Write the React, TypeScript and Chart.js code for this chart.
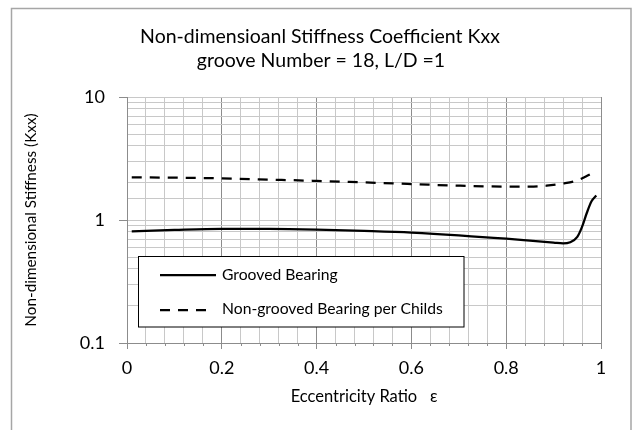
import React, { useEffect, useRef } from "react";
import { Chart, registerables } from "chart.js";

Chart.register(...registerables);

// Eccentricity ratio samples and stiffness coefficient Kxx for each bearing type
const groovedEcc = [0.01, 0.1, 0.2, 0.3, 0.4, 0.5, 0.6, 0.7, 0.75, 0.8, 0.85, 0.9, 0.92, 0.935, 0.95, 0.96, 0.97, 0.98, 0.99];
const groovedKxx = [0.81, 0.83, 0.845, 0.845, 0.835, 0.815, 0.79, 0.75, 0.725, 0.705, 0.68, 0.655, 0.645, 0.66, 0.73, 0.88, 1.14, 1.42, 1.58];

const nonGroovedEcc = [0.01, 0.1, 0.2, 0.3, 0.4, 0.5, 0.6, 0.7, 0.8, 0.85, 0.885, 0.92, 0.95, 0.977];
const nonGroovedKxx = [2.22, 2.21, 2.18, 2.13, 2.08, 2.02, 1.96, 1.9, 1.87, 1.87, 1.9, 1.98, 2.1, 2.35];

const xTickLabels = ["0", "0.2", "0.4", "0.6", "0.8", "1"];
const yTickLabels = ["0.1", "1", "10"];

const titleLines = ["Non-dimensioanl Stiffness Coefficient Kxx", "groove Number = 18, L/D =1"];
const seriesNames = ["Grooved Bearing", "Non-grooved Bearing per Childs"];
const xAxisTitle = "Eccentricity Ratio   \u03b5";
const yAxisTitle = "Non-dimensional Stiffness (Kxx)";

const FONT = "Lato, 'Open Sans', sans-serif";
const DASH = [10, 8];

const isMajorX = (v: number) => Math.round(v * 100) % 20 === 0;
const isDecade = (v: number) => {
  const l = Math.log10(v);
  return Math.abs(l - Math.round(l)) < 1e-6;
};

const decorPlugin = {
  id: "decor",
  beforeDraw(chart: any) {
    const { ctx } = chart;
    ctx.save();
    ctx.fillStyle = "#ffffff";
    ctx.fillRect(0, 0, chart.width, chart.height);
    ctx.strokeStyle = "#a6a6a6";
    ctx.lineWidth = 1.5;
    ctx.strokeRect(11.5, 8.5, 619.5, 440);
    ctx.restore();
  },
  afterDraw(chart: any) {
    const { ctx, chartArea, scales } = chart;
    const xs = scales.x;
    ctx.save();

    // short minor tick marks under the x axis
    ctx.strokeStyle = "#8c8c8c";
    ctx.lineWidth = 1;
    xs.ticks.forEach((t: any) => {
      if (!isMajorX(t.value)) {
        const px = Math.round(xs.getPixelForValue(t.value)) + 0.5;
        ctx.beginPath();
        ctx.moveTo(px, chartArea.bottom);
        ctx.lineTo(px, chartArea.bottom + 3);
        ctx.stroke();
      }
    });

    // two-line chart title
    ctx.fillStyle = "#000";
    ctx.font = `19.5px ${FONT}`;
    ctx.textAlign = "center";
    ctx.textBaseline = "alphabetic";
    ctx.fillText(titleLines[0], 320, 43);
    ctx.fillText(titleLines[1], 321, 67);

    // legend box inside the plot
    ctx.fillStyle = "#fff";
    ctx.fillRect(138.5, 256.5, 325.5, 70.5);
    ctx.strokeStyle = "#000";
    ctx.lineWidth = 1;
    ctx.strokeRect(138.5, 256.5, 325.5, 70.5);

    ctx.lineWidth = 2.25;
    ctx.beginPath();
    ctx.moveTo(160, 275);
    ctx.lineTo(216, 275);
    ctx.stroke();
    ctx.setLineDash(DASH);
    ctx.beginPath();
    ctx.moveTo(160, 310);
    ctx.lineTo(207, 310);
    ctx.stroke();
    ctx.setLineDash([]);

    ctx.fillStyle = "#000";
    ctx.font = `15.7px ${FONT}`;
    ctx.textAlign = "left";
    ctx.fillText(seriesNames[0], 222, 280);
    ctx.fillText(seriesNames[1], 222, 314);

    ctx.restore();
  },
};

export default function App() {
  const canvasRef = useRef<HTMLCanvasElement | null>(null);

  useEffect(() => {
    const canvas = canvasRef.current;
    if (!canvas) return;

    const chart = new Chart(canvas, {
      type: "line",
      data: {
        datasets: [
          {
            label: seriesNames[0],
            data: groovedEcc.map((x, i) => ({ x, y: groovedKxx[i] })),
            borderColor: "#000",
            borderWidth: 2.25,
            pointRadius: 0,
            cubicInterpolationMode: "monotone",
            fill: false,
          },
          {
            label: seriesNames[1],
            data: nonGroovedEcc.map((x, i) => ({ x, y: nonGroovedKxx[i] })),
            borderColor: "#000",
            borderWidth: 2.25,
            borderDash: DASH,
            pointRadius: 0,
            cubicInterpolationMode: "monotone",
            fill: false,
          },
        ],
      },
      options: {
        animation: false,
        responsive: false,
        devicePixelRatio: 1,
        layout: { padding: { top: 97, right: 32, bottom: 0, left: 0 } },
        plugins: {
          legend: { display: false },
          tooltip: { enabled: false },
          title: { display: false },
        },
        scales: {
          x: {
            type: "linear",
            min: 0,
            max: 1,
            afterFit: (s: any) => {
              s.height = 87;
            },
            ticks: {
              stepSize: 0.04,
              autoSkip: false,
              maxRotation: 0,
              padding: 8,
              color: "#000",
              font: { family: FONT, size: 18 },
              callback: (v: any) => {
                const n = Number(v);
                if (!isMajorX(n)) return "";
                return xTickLabels[Math.round(n * 5)];
              },
            },
            grid: {
              color: (c: any) => (isMajorX(c.tick.value) ? "#8c8c8c" : "#c8c8c8"),
              tickColor: (c: any) => (isMajorX(c.tick.value) ? "#8c8c8c" : "rgba(0,0,0,0)"),
              tickLength: 6,
              lineWidth: 1,
            },
            border: { color: "#8c8c8c" },
            title: {
              display: true,
              text: xAxisTitle,
              color: "#000",
              font: { family: FONT, size: 16.5 },
              padding: { top: 0, bottom: 23 },
            },
          },
          y: {
            type: "logarithmic",
            min: 0.1,
            max: 10,
            afterFit: (s: any) => {
              s.width = 127;
            },
            ticks: {
              autoSkip: false,
              padding: 14,
              color: "#000",
              font: { family: FONT, size: 18 },
              callback: (v: any) => {
                const n = Number(v);
                if (!isDecade(n)) return "";
                return yTickLabels[Math.round(Math.log10(n)) + 1];
              },
            },
            grid: {
              color: "#c8c8c8",
              tickColor: (c: any) => (isDecade(c.tick.value) ? "#8c8c8c" : "rgba(0,0,0,0)"),
              tickLength: 8,
              lineWidth: 1,
            },
            border: { color: "#8c8c8c" },
            title: {
              display: true,
              text: yAxisTitle,
              color: "#000",
              font: { family: FONT, size: 15.3 },
              padding: { top: 22, bottom: 0 },
            },
          },
        },
      },
      plugins: [decorPlugin],
    } as any);

    return () => chart.destroy();
  }, []);

  return (
    <div style={{ position: "fixed", left: 0, top: 0, width: 633, height: 430, background: "#fff" }}>
      <canvas ref={canvasRef} width={633} height={430} style={{ width: 633, height: 430, display: "block" }} />
    </div>
  );
}
